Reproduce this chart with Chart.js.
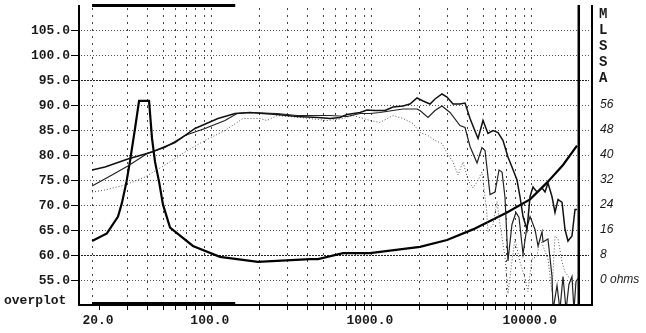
<!DOCTYPE html>
<html>
<head>
<meta charset="utf-8">
<script src="https://cdn.jsdelivr.net/npm/chart.js@4.4.0/dist/chart.umd.min.js"></script>
<style>
  html, body { margin: 0; padding: 0; background: #fff; }
</style>
</head>
<body>
<canvas id="chart" width="646" height="333"></canvas>
<script>
// Response curves (Hz, dB SPL)
const freqA = [18.1, 21.8, 30.3, 42.9, 59.7, 79.6, 110.8, 141.6, 175.8, 259, 346, 468, 556, 641, 710, 856, 946, 1062, 1226, 1376, 1589, 1756, 1943, 2119, 2344, 2518, 2784, 2993, 3263, 3606, 3878, 4168, 4540, 4677, 5024, 5396, 5802, 6237, 6700, 7194, 7621, 8194, 8552, 8934, 9464, 9886, 10316, 10930, 11750, 12264, 12794, 13550, 14158, 14792, 15668, 16352, 17062, 18072, 18882, 19434];
const dbA = [77.0, 77.6, 79.2, 80.6, 82.5, 85.3, 87.3, 88.3, 88.5, 88.1, 87.7, 87.5, 87.3, 87.5, 88.1, 88.5, 89.0, 88.9, 88.9, 89.6, 89.8, 90.2, 91.4, 90.8, 90.2, 91.2, 92.2, 91.6, 90.2, 90.2, 90.4, 87.3, 84.3, 83.3, 86.9, 84.3, 84.9, 84.5, 82.9, 79.6, 77.6, 75.0, 71.7, 67.7, 65.1, 71.7, 73.6, 72.6, 73.4, 72.6, 74.4, 71.7, 68.5, 71.1, 70.5, 65.1, 62.8, 63.8, 69.1, 69.1];

const freqB = [18.1, 24.1, 30.3, 40.5, 51.7, 68.9, 91.9, 122.6, 145.8, 175.8, 259, 346, 468, 556, 710, 856, 988, 1140, 1376, 1589, 1943, 2029, 2276, 2518, 2784, 3126, 3606, 3878, 4168, 4610, 4949, 5171, 5559, 5970, 6325, 6607, 6895, 7194, 7621, 8072, 8434, 8934, 9464, 9886, 10617, 11092, 11750, 11914, 12794, 13550, 13762, 14576, 15200, 15886, 16600, 17300, 18072, 18600, 19150, 19720];
const dbB = [73.8, 76.0, 77.8, 80.4, 81.5, 83.9, 85.3, 86.9, 88.3, 88.5, 88.3, 87.9, 87.9, 87.9, 87.7, 88.3, 88.3, 88.5, 88.9, 89.2, 89.2, 88.9, 87.5, 88.9, 89.8, 88.5, 85.9, 85.5, 81.7, 78.4, 81.5, 80.9, 72.1, 72.6, 77.0, 76.6, 71.5, 58.8, 66.1, 68.5, 67.5, 60.2, 65.7, 67.7, 65.1, 61.8, 64.7, 62.6, 63.2, 55.8, 49, 53.9, 49, 55.7, 49, 54.1, 55.7, 49, 54.7, 55.3];

const freqC = [18.1, 21.8, 29.1, 38.8, 51.7, 68.9, 91.9, 122.6, 158.9, 202.8, 224.4, 259.3, 360.8, 468, 532, 670, 774, 988, 1140, 1376, 1589, 1834, 2029, 2276, 2518, 2784, 2993, 3263, 3507, 3767, 4046, 4350, 4610, 4949, 5300, 5396, 5802, 6148, 6416, 6895, 7194, 7621, 7962, 8552, 9195, 9594, 10164, 10930, 11405, 11914, 12794, 13550, 14158, 14792, 15668, 16352, 17062, 18072, 18882];
const dbC = [72.6, 73.0, 74.0, 75.6, 78.0, 80.6, 82.9, 84.9, 87.3, 87.3, 86.9, 87.9, 87.5, 87.1, 86.9, 87.3, 87.9, 86.9, 86.5, 87.9, 87.3, 86.3, 84.5, 83.9, 82.9, 82.3, 80.4, 78.6, 76.0, 78.6, 75.0, 73.4, 74.6, 76.6, 68.7, 64.7, 66.1, 70.7, 66.1, 59.6, 52.3, 58.8, 63.2, 58.6, 55.3, 52.7, 59.2, 59.8, 63.2, 61.8, 59.2, 52.7, 63.8, 63.2, 58.6, 56.6, 55.8, 54.7, 53.9];

// Impedance (Hz, ohms)
const freqZ = [18.1, 22.4, 26.3, 27.8, 29.7, 31.2, 33.6, 35.6, 41.1, 42.9, 44.8, 47.5, 50.2, 55.6, 77.3, 114, 197, 417, 468, 670, 988, 2029, 2993, 4350, 7096, 9886, 12530, 15886, 19434];
const ohmZ = [12.5, 14.9, 20.3, 24.6, 31.4, 37.8, 48.5, 57.3, 57.3, 45.3, 37.8, 31.4, 24.2, 16.8, 10.9, 7.4, 5.8, 6.7, 6.7, 8.6, 8.6, 10.6, 12.8, 16.2, 21.6, 25.8, 31.0, 36.8, 43.0];

// Axis labels
const dbTicks = [55, 60, 65, 70, 75, 80, 85, 90, 95, 100, 105];
const ohmTicks = [0, 8, 16, 24, 32, 40, 48, 56];
const freqLabels = [20, 100, 1000, 10000];
const sideTitle = ['M', 'L', 'S', 'S', 'A'];

const pairs = (xs, ys) => xs.map((f, i) => ({ x: f, y: ys[i] }));

// minor log grid 30..90, 100..900, 1000..9000, 10000
const gridFreqs = [];
[10, 100, 1000].forEach(d => {
    for (let m = 1; m < 10; m++) {
        if (d * m >= 30) gridFreqs.push(d * m);
    }
});
gridFreqs.push(10000);
const tickFreqs = [20].concat(gridFreqs);

const MONO = 'bold 13px "Liberation Mono", "DejaVu Sans Mono", monospace';

const decor = {
    id: 'decor',
    beforeDatasetsDraw(chart) {
        const { ctx, chartArea: a, scales: { x, y } } = chart;
        ctx.save();
        ctx.lineWidth = 1;
        // horizontal dotted lines
        dbTicks.forEach(v => {
            const py = Math.round(y.getPixelForValue(v)) + 0.5;
            const strong = v === 60 || v === 95;
            ctx.strokeStyle = strong ? '#222' : '#555';
            ctx.setLineDash(strong ? [2, 1] : [1, 2]);
            ctx.beginPath();
            ctx.moveTo(a.left + 2, py);
            ctx.lineTo(a.right - 3, py);
            ctx.stroke();
        });
        // vertical dotted lines
        ctx.strokeStyle = '#444';
        ctx.setLineDash([2, 5]);
        [18.1].concat(gridFreqs).forEach(f => {
            const px = Math.round(x.getPixelForValue(f)) + 0.5;
            ctx.beginPath();
            ctx.moveTo(px, a.top + 3);
            ctx.lineTo(px, a.bottom);
            ctx.stroke();
        });
        ctx.restore();
    },
    afterDatasetsDraw(chart) {
        const { ctx, chartArea: a, scales: { x, y, y2 } } = chart;
        ctx.save();
        ctx.fillStyle = '#000';
        const h = a.bottom - a.top;
        // frame
        ctx.fillRect(a.left - 1, a.top, 2, h + 1);
        ctx.fillRect(a.left - 1, a.bottom - 1, a.right - a.left + 1, 2);
        ctx.fillRect(a.right - 1, a.top, 2, h + 1);
        const p20k = x.getPixelForValue(20000);
        ctx.fillRect(p20k - 1.5, a.top, 2.5, h);
        // overplot bars
        const b0 = x.getPixelForValue(18.1);
        const b1 = x.getPixelForValue(142);
        ctx.fillRect(b0, a.top - 1, b1 - b0, 3);
        ctx.fillRect(b0, a.bottom - 3, b1 - b0, 4);
        // tick marks
        dbTicks.forEach(v => {
            const py = Math.round(y.getPixelForValue(v));
            ctx.fillRect(a.left - 8, py, 7, 1);
        });
        tickFreqs.forEach(f => {
            const px = Math.round(x.getPixelForValue(f));
            ctx.fillRect(px, a.bottom, 1, 5);
        });
        // left labels
        ctx.fillStyle = '#1a1a1a';
        ctx.font = MONO;
        ctx.textAlign = 'right';
        ctx.textBaseline = 'middle';
        dbTicks.forEach(v => {
            ctx.fillText(v.toFixed(1), a.left - 9, y.getPixelForValue(v) + 1);
        });
        // bottom labels
        ctx.textAlign = 'center';
        freqLabels.forEach(f => {
            ctx.fillText(f.toFixed(1), x.getPixelForValue(f) - 1, a.bottom + 16);
        });
        ctx.textAlign = 'left';
        ctx.fillText('overplot', 4, a.bottom - 4);
        // MLSSA
        ctx.font = 'bold 14px "Liberation Mono", "DejaVu Sans Mono", monospace';
        sideTitle.forEach((c, i) => {
            ctx.fillText(c, a.right + 7, a.top + 9 + i * 16);
        });
        // impedance labels
        ctx.font = 'italic 12px "Liberation Sans", Arial, sans-serif';
        ohmTicks.forEach(v => {
            const txt = v === 0 ? '0 ohms' : String(v);
            ctx.fillText(txt, a.right + 8, y2.getPixelForValue(v));
        });
        ctx.restore();
    }
};

new Chart(document.getElementById('chart'), {
    type: 'line',
    data: {
        datasets: [
            {
                label: 'response A',
                data: pairs(freqA, dbA),
                yAxisID: 'y',
                borderColor: '#111',
                borderWidth: 1.5
            },
            {
                label: 'response B',
                data: pairs(freqB, dbB),
                yAxisID: 'y',
                borderColor: '#222',
                borderWidth: 1.2
            },
            {
                label: 'response C',
                data: pairs(freqC, dbC),
                yAxisID: 'y',
                borderColor: '#555',
                borderWidth: 1,
                borderDash: [1, 2]
            },
            {
                label: 'impedance',
                data: pairs(freqZ, ohmZ),
                yAxisID: 'y2',
                borderColor: '#000',
                borderWidth: 2.2
            }
        ]
    },
    options: {
        responsive: false,
        animation: false,
        layout: {
            padding: { left: 79, right: 54, top: 5, bottom: 28 }
        },
        elements: {
            point: { radius: 0 },
            line: { tension: 0, fill: false }
        },
        scales: {
            x: { type: 'logarithmic', min: 15, max: 24110, display: false },
            y: { type: 'linear', min: 50, max: 110, display: false },
            y2: { type: 'linear', min: -8, max: 88, display: false }
        },
        plugins: {
            legend: { display: false },
            tooltip: { enabled: false }
        }
    },
    plugins: [decor]
});
</script>
</body>
</html>
